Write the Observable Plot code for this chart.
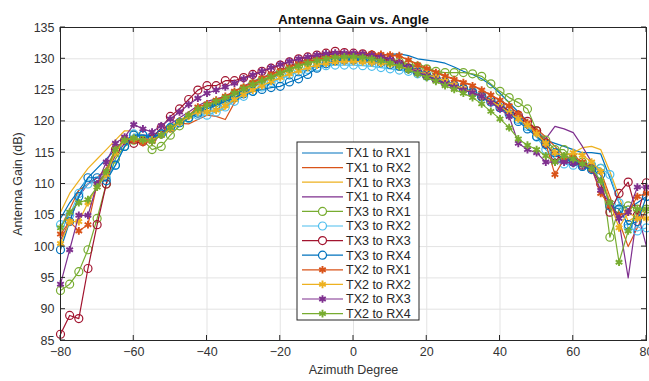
<!DOCTYPE html>
<html><head><meta charset="utf-8">
<script src="https://cdn.jsdelivr.net/npm/d3@7"></script>
<script src="https://cdn.jsdelivr.net/npm/@observablehq/plot@0.6"></script>
<style>body{margin:0;background:#fff;font-family:"Liberation Sans",Arial,sans-serif}#chart{width:649px;height:381px}</style>
</head><body><div id="chart"></div>
<script>
const angles = [-80,-77.5,-75,-72.5,-70,-67.5,-65,-62.5,-60,-57.5,-55,-52.5,-50,-47.5,-45,-42.5,-40,-37.5,-35,-32.5,-30,-27.5,-25,-22.5,-20,-17.5,-15,-12.5,-10,-7.5,-5,-2.5,0,2.5,5,7.5,10,12.5,15,17.5,20,22.5,25,27.5,30,32.5,35,37.5,40,42.5,45,47.5,50,52.5,55,57.5,60,62.5,65,67.5,70,72.5,75,77.5,80];

const seriesNames = ["TX1 to RX1","TX1 to RX2","TX1 to RX3","TX1 to RX4","TX3 to RX1","TX3 to RX2","TX3 to RX3","TX3 to RX4","TX2 to RX1","TX2 to RX2","TX2 to RX3","TX2 to RX4"];
const seriesColors = ["#0072BD","#D95319","#EDB120","#7E2F8E","#77AC30","#4DBEEE","#A2142F","#0072BD","#D95319","#EDB120","#7E2F8E","#77AC30"];
const seriesMarkers = ["none","none","none","none","circle","circle","circle","circle","asterisk","asterisk","asterisk","asterisk"];

const tx1rx1 = [104.5,107,109,111,112.5,114,115.5,117,117.8,117.6,117.2,118,119,120,121,121.8,122.3,122.8,123.4,124.2,125,125.8,126.4,127,127.6,128.3,128.9,129.5,129.9,130.3,130.5,130.6,130.6,130.6,130.6,130.6,130.7,130.8,130.5,130,129.8,129.6,129.3,128.7,128,127.5,126.8,125.8,124.5,123,121.5,120,118.5,117,116.5,116,115.5,115,115,114.8,111,107,106,107,108];
const tx1rx2 = [103,106,109,110,111,112.5,115.5,117,117.2,117,117,118,119,119.7,119.6,120.3,121,120.8,120.3,123,124.5,125.5,126.2,127,127.6,128.2,128.8,129.4,129.9,130.3,130.5,130.7,130.8,130.8,130.8,130.7,130.6,130.4,129.8,129.2,128.6,128,127.3,126.8,126.3,125.8,125,124.2,123.3,122.3,121.3,120,118.8,117.5,116,114.5,114,113.5,113,112,108,104,100,103,106];
const tx1rx3 = [105.5,108.5,110.5,112.5,114,115.5,117,118.5,118.5,117.8,117.5,118.2,119.3,120.2,121,121.6,121.8,121.5,122,123.5,124.8,125.8,126.5,127.3,128,128.7,129.3,129.8,130.2,130.5,130.6,130.5,130.4,130.2,130,129.8,129.6,129.3,128.8,128.2,127.6,127,126.4,125.8,125.3,124.8,124.2,123.4,122.5,121.5,120.3,119,117.6,116.2,115,114.5,115,115.8,116,115.5,112,108,104,105,106];
const tx1rx4 = [101,104,108,110,111,112,114.5,116.5,117.6,117.8,117.8,118.6,119.6,120.6,121.5,122.5,123.2,123.6,124,124.8,125.6,126.4,127,127.6,128.2,128.8,129.4,129.9,130.3,130.6,130.8,130.9,130.9,130.8,130.6,130.4,130,129.4,128.8,128.2,127.6,127,126.5,125.8,125.2,124.6,123.8,123,122.2,121.2,120.6,119.8,118.4,117.2,119.2,118.8,118.2,116,113.5,111.5,107,104,95,105.5,100];
const tx3rx1 = [93,94,96,99.5,104.5,110,114,116,117,117,115.5,116,117.8,119.3,120.5,121.5,122.3,123,123.6,124.4,125.2,126,126.6,127.2,127.8,128.4,128.9,129.4,129.7,130,130.1,130.2,130.2,130.2,130.1,130,129.8,129.5,129.2,128.8,128.4,128,127.8,127.8,127.8,127.6,127.2,126,124.8,123.8,123,122,118.5,117,115.5,115.5,114,113.5,113,112.5,101.5,106,106.5,106,106];
const tx3rx2 = [103.5,105,108.5,110,110.5,111,113,116,118,117.8,117.5,118,119,119.8,120.5,121,121,121.5,122.3,123.2,124,124.8,125.5,126.2,126.8,127.4,127.9,128.3,128.7,128.9,129,129,129,128.9,128.8,128.6,128.4,128.2,128,127.6,127.2,126.8,126.3,125.8,125.3,124.8,124.2,123.5,122.8,121.7,120.3,119.2,117.5,115.5,114,113.2,113,112.8,113,112.5,111.5,107,103,102.5,103];
const tx3rx3 = [86,89,88.5,96.5,103.5,110,115.5,117,116.5,116.8,117.2,119,120.8,122,123.5,125,125.7,125.7,126.5,126.5,127,127.5,128,128.5,129,129.5,130,130.3,130.6,130.9,131.2,131,130.9,130.8,130.6,130.3,129.8,129.2,128.5,127.9,127.3,126.8,126.2,125.7,125.2,124.6,124,123.4,122.6,121.7,121,120,118.5,116.5,114.5,114,113.5,113,112.5,110,105.5,108.5,110.3,105,110.2];
const tx3rx4 = [99.5,104,108,111,111,110.5,113,116,117.8,117.8,117.5,118,119,119.8,120.6,121.3,122,122.6,123.2,123.8,124.4,124.8,125.1,125.4,125.6,126.3,126.8,127.5,128.5,129.2,129.7,129.8,129.8,129.8,129.6,129.4,129.1,128.8,128.4,127.9,127.4,126.9,126.3,125.8,125.2,124.6,123.9,123.1,122.2,121.2,120,118.8,117.6,116.3,115,114,113.5,112.8,112.3,111.5,106.5,106,103.5,104,108];
const tx2rx1 = [102,104,102.5,103.5,110,112,115.5,117.2,117,116.6,116.8,117.8,118.8,120,121,122.3,122.8,123.4,124,124.8,125.5,126.2,126.9,127.5,128.1,128.7,129.2,129.6,129.9,130.2,130.4,130.6,130.7,130.8,130.8,130.7,130.6,130.5,129.8,129,128.4,127.8,127.2,126.7,126.2,125.7,125,124.2,123.4,122.5,121.2,119.8,118.3,116.5,111.5,114,114.5,113.5,112.5,108.5,106.5,105,105.5,108,108.5];
const tx2rx2 = [100.5,104,104,107,109.5,111.5,115,117,117.3,117,117,117.8,118.8,119.8,120.8,121.5,121.5,121.8,122.5,123.5,124.3,125,125.7,126.4,127,127.6,128.1,128.6,129,129.3,129.5,129.6,129.6,129.5,129.4,129.3,129.1,128.8,128.4,128,127.5,127,126.4,125.8,125.2,124.6,124,123.2,122.4,121.4,120.4,119.4,118,116.5,115,114.5,115,114.6,113.5,112,107,103,105.5,104.5,104.5];
const tx2rx3 = [94,99.5,105,105,110,113.5,116.5,117.5,119.5,118.8,118.3,119.3,120.4,121.5,122.7,123.7,124.5,125,125.5,126.1,126.8,127.4,128,128.6,129.1,129.6,130,130.3,130.6,130.8,130.9,130.9,130.9,130.8,130.6,130.3,129.9,129.3,128.6,127.9,127.3,126.6,126,125.5,125,124.6,124,123,122,120.8,116.5,115.5,115,113.5,113.5,113.5,113.3,113,112.5,109,107,104.5,105.5,109.5,109.5];
const tx2rx4 = [103,105.5,107,107.5,109.5,112,115.5,117,117.3,117,116.8,117.8,119,120,121,122,122.6,123.2,123.8,124.5,125.2,125.9,126.5,127.1,127.7,128.3,128.8,129.3,129.7,130,130.2,130.3,130.3,130.2,130,129.7,129.3,128.8,128.2,127.6,127,126.4,125.7,125.1,124.5,123.8,122.8,121.6,120.4,119,117.2,116.2,115.5,114.5,113.5,114.5,114,113.2,112.5,110.5,107,97.5,102.5,106,106];

const xTicks = [-80,-60,-40,-20,0,20,40,60,80];
const yTicks = [85,90,95,100,105,110,115,120,125,130,135];
const titleText = "Antenna Gain vs. Angle";
const xLabel = "Azimuth Degree";
const yLabel = "Antenna Gain (dB)";

const seriesValues = [tx1rx1,tx1rx2,tx1rx3,tx1rx4,tx3rx1,tx3rx2,tx3rx3,tx3rx4,tx2rx1,tx2rx2,tx2rx3,tx2rx4];
const bad = seriesValues.map((s,i)=>[i,s.length]).filter(d=>d[1]!==angles.length);

const rows = [];
seriesValues.forEach((vals, si) => vals.forEach((v, k) => rows.push({angle: angles[k], gain: v, series: seriesNames[si], si})));

const marks = [
  Plot.ruleX(xTicks, {x: d => d, stroke: "#e3e3e3", strokeWidth: 1}),
  Plot.ruleY(yTicks, {y: d => d, stroke: "#e3e3e3", strokeWidth: 1})
];
seriesNames.forEach((name, si) => {
  const d = rows.filter(r => r.si === si);
  marks.push(Plot.line(d, {x: "angle", y: "gain", stroke: seriesColors[si], strokeWidth: 1.2}));
  if (seriesMarkers[si] === "circle") {
    marks.push(Plot.dot(d, {x: "angle", y: "gain", stroke: seriesColors[si], r: 4, strokeWidth: 1.2, fill: "none"}));
  } else if (seriesMarkers[si] === "asterisk") {
    marks.push(Plot.dot(d, {x: "angle", y: "gain", stroke: seriesColors[si], symbol: "asterisk", r: 3.6, strokeWidth: 1.9}));
  }
});
marks.push(
  Plot.frame({stroke: "#262626", strokeWidth: 1}),
  Plot.axisX({ticks: xTicks, tickSize: 0, tickPadding: 7, label: xLabel, labelAnchor: "center", labelArrow: "none", labelOffset: 33, fontSize: 12.5, color: "#333"}),
  Plot.axisY({ticks: yTicks, tickSize: 0, tickPadding: 6, label: yLabel, labelAnchor: "center", labelArrow: "none", labelOffset: 47, fontSize: 12.5, color: "#333"}),
  Plot.text([titleText], {frameAnchor: "top", dy: -13, fontWeight: "bold", fontSize: 13.5, fill: "#111"})
);

const chart = Plot.plot({
  width: 649, height: 381,
  marginTop: 27, marginBottom: 41, marginLeft: 60, marginRight: 3,
  x: {type: "linear", domain: [-80, 80]},
  y: {type: "linear", domain: [85, 135]},
  style: {fontFamily: "'Liberation Sans', Arial, sans-serif", fontSize: "12.5px", background: "#fff", overflow: "visible"},
  marks
});
document.getElementById("chart").appendChild(chart);

// inside tick marks (MATLAB style), on all four sides
const svg = d3.select(chart);
const xs = chart.scale("x"), ys = chart.scale("y");
const tg = svg.append("g").attr("stroke", "#262626");
xTicks.forEach(t => {
  const px = xs.apply(t);
  tg.append("line").attr("x1", px).attr("x2", px).attr("y1", ys.apply(85)).attr("y2", ys.apply(85) - 5);
  tg.append("line").attr("x1", px).attr("x2", px).attr("y1", ys.apply(135)).attr("y2", ys.apply(135) + 5);
});
yTicks.forEach(t => {
  const py = ys.apply(t);
  tg.append("line").attr("y1", py).attr("y2", py).attr("x1", xs.apply(-80)).attr("x2", xs.apply(-80) + 5);
  tg.append("line").attr("y1", py).attr("y2", py).attr("x1", xs.apply(80)).attr("x2", xs.apply(80) - 5);
});

// legend
const lg = svg.append("g").attr("transform", "translate(297,142)");
lg.append("rect").attr("width", 122).attr("height", 178).attr("fill", "#fff").attr("stroke", "#262626");
seriesNames.forEach((name, i) => {
  const y = 11 + i * 14.6;
  const g = lg.append("g").attr("transform", `translate(0,${y})`);
  g.append("line").attr("x1", 5).attr("x2", 46).attr("y1", 0).attr("y2", 0).attr("stroke", seriesColors[i]).attr("stroke-width", 1.2);
  if (seriesMarkers[i] === "circle") g.append("circle").attr("cx", 25.5).attr("r", 4).attr("fill", "#fff").attr("stroke", seriesColors[i]).attr("stroke-width", 1.2);
  if (seriesMarkers[i] === "asterisk") g.append("path").attr("transform", "translate(25.5,0)").attr("d", d3.symbol(d3.symbolAsterisk, 40)()).attr("stroke", seriesColors[i]).attr("stroke-width", 1.9);
  g.append("text").attr("x", 49).attr("y", 0).attr("dy", "0.35em").attr("text-anchor", "start").attr("font-size", 12.5).attr("fill", "#262626").text(name);
});
if (bad.length) svg.append("text").attr("x", 100).attr("y", 100).attr("fill", "red").text("LEN " + JSON.stringify(bad));
</script></body></html>
